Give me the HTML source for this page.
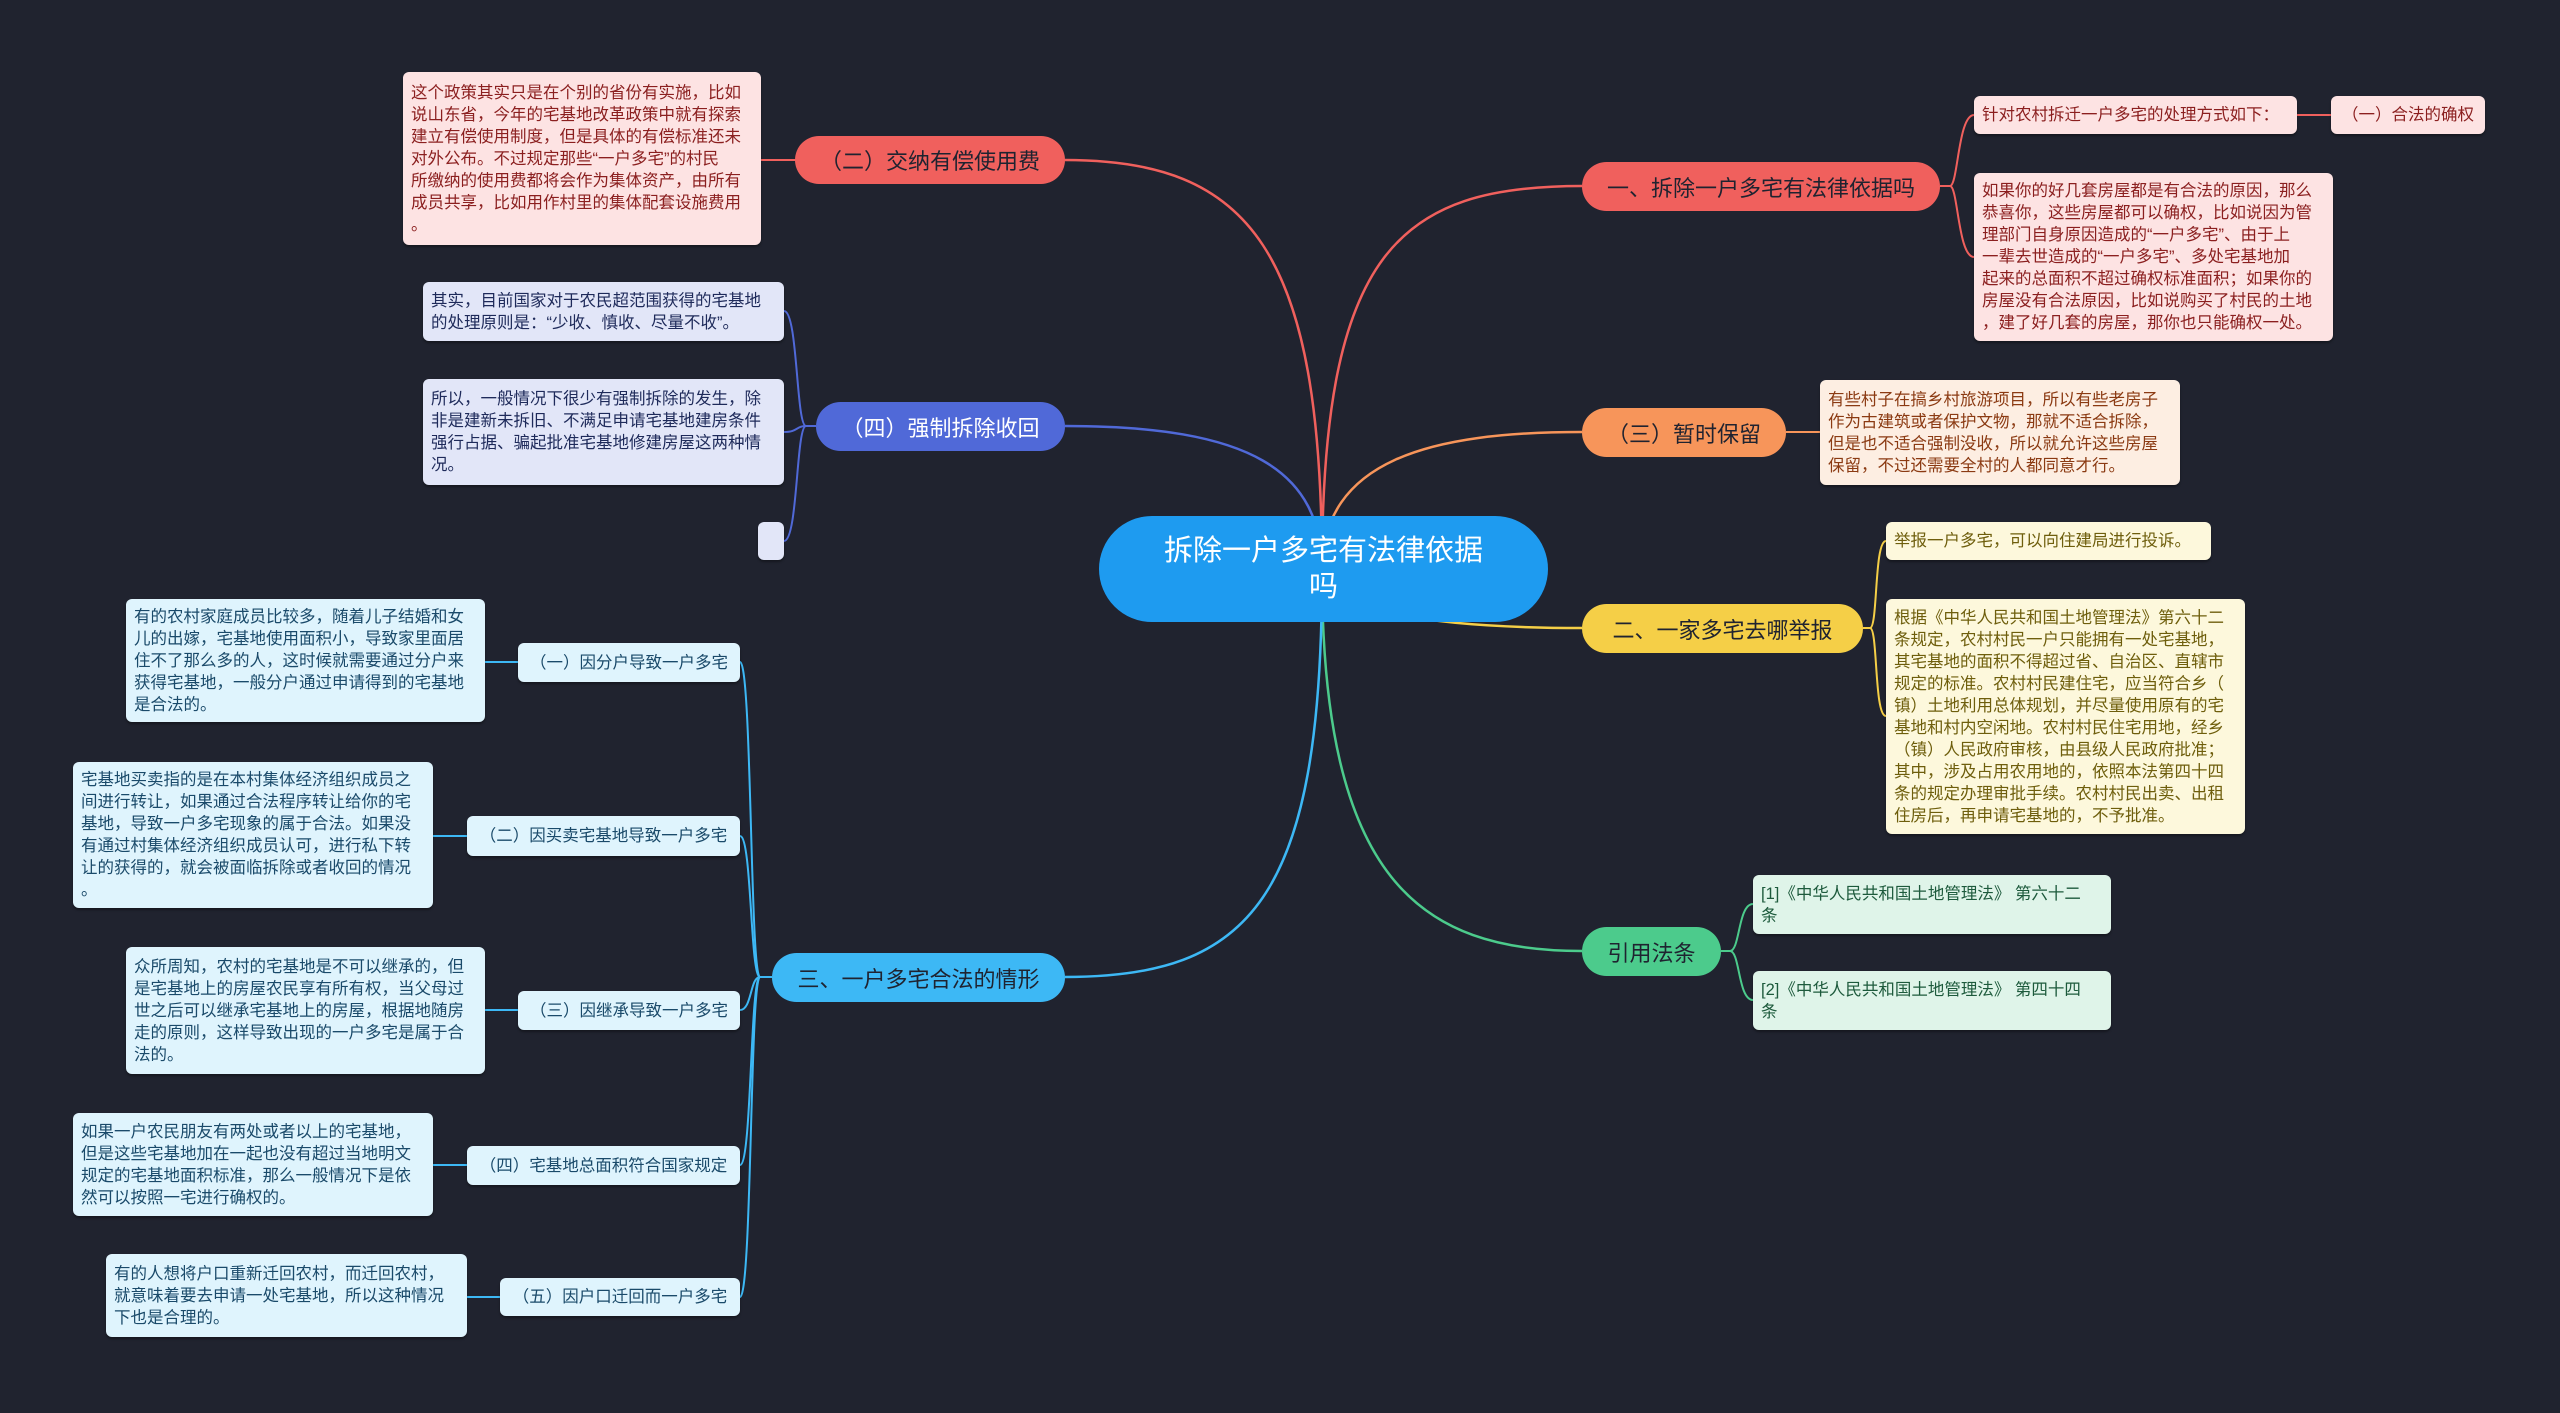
<!DOCTYPE html>
<html><head><meta charset="utf-8">
<style>
html,body{margin:0;padding:0;}
body{width:2560px;height:1413px;background:#20232f;position:relative;overflow:hidden;font-family:"Liberation Sans","Noto Sans CJK SC",sans-serif;}
.n{position:absolute;box-sizing:border-box;display:flex;align-items:center;justify-content:center;white-space:nowrap;}
.pill{border-radius:26px;font-size:22px;color:#1f2330;}
.box{border-radius:6px;font-size:16.5px;line-height:22px;justify-content:flex-start;padding:0 8px;box-shadow:0 2px 2px rgba(0,0,0,.35);}
svg{position:absolute;left:0;top:0;}
</style></head><body>
<svg width="2560" height="1413" fill="none" stroke-width="2.5">
<path d="M1322 571 C1322 250 1400 186 1582 186" stroke="#f0605d"/>
<path d="M1322 571 C1322 460 1430 432 1582 432" stroke="#f7955a"/>
<path d="M1322 571 C1322 610 1430 628 1582 628" stroke="#f5cf47"/>
<path d="M1322 571 C1322 880 1420 951 1582 951" stroke="#4ccb8c"/>
<path d="M1322 571 C1322 250 1250 160 1065 160" stroke="#f0605d"/>
<path d="M1322 571 C1322 470 1250 426 1065 426" stroke="#5069d8"/>
<path d="M1322 571 C1322 900 1250 977 1065 977" stroke="#3db8f5"/>
<g stroke="#f0605d" stroke-width="2">
<path d="M1940 186 H1950 C1958 186 1958 115 1974 115"/>
<path d="M1940 186 H1950 C1958 186 1958 257 1974 257"/>
<path d="M2297 115 H2331"/>
<path d="M1065 160 H761"/>
</g>
<path d="M1786 432 H1820" stroke="#f7955a" stroke-width="2"/>
<g stroke="#f5cf47" stroke-width="2">
<path d="M1863 628 H1870 C1878 628 1874 541 1886 541"/>
<path d="M1863 628 H1870 C1878 628 1874 716 1886 716"/>
</g>
<g stroke="#4ccb8c" stroke-width="2">
<path d="M1721 951 H1730 C1740 951 1738 904 1753 904"/>
<path d="M1721 951 H1730 C1740 951 1738 1000 1753 1000"/>
</g>
<g stroke="#5069d8" stroke-width="2">
<path d="M816 426 H806 C796 426 798 311 784 311"/>
<path d="M816 426 H806 C796 426 798 432 784 432"/>
<path d="M816 426 H806 C796 426 798 541 784 541"/>
</g>
<g stroke="#3db8f5" stroke-width="2">
<path d="M772 977 H760 C750 977 752 662 740 662"/>
<path d="M772 977 H760 C750 977 752 836 740 836"/>
<path d="M772 977 H760 C750 977 752 1010 740 1010"/>
<path d="M772 977 H760 C750 977 752 1165 740 1165"/>
<path d="M772 977 H760 C750 977 752 1297 740 1297"/>
<path d="M485 662 H518"/><path d="M433 836 H467"/><path d="M485 1010 H518"/><path d="M433 1165 H467"/><path d="M467 1297 H500"/>
</g>
</svg>

<div class="n" style="left:1099px;top:516px;width:449px;height:106px;border-radius:53px;background:#1e9bf0;color:#fff;font-size:29px;line-height:36px;text-align:center;">拆除一户多宅有法律依据<br>吗</div>

<div class="n pill" style="left:1582px;top:162px;width:358px;height:49px;background:#f0605d;">一、拆除一户多宅有法律依据吗</div>
<div class="n pill" style="left:1582px;top:408px;width:204px;height:49px;background:#f7955a;">（三）暂时保留</div>
<div class="n pill" style="left:1582px;top:604px;width:281px;height:49px;background:#f5cf47;">二、一家多宅去哪举报</div>
<div class="n pill" style="left:1582px;top:927px;width:139px;height:49px;background:#4ccb8c;">引用法条</div>

<div class="n box" style="left:1974px;top:96px;width:323px;height:38px;background:#fde3e3;color:#8b1f1f;">针对农村拆迁一户多宅的处理方式如下：</div>
<div class="n box" style="left:2331px;top:96px;width:154px;height:38px;background:#fde3e3;color:#8b1f1f;justify-content:center;">（一）合法的确权</div>
<div class="n box" style="left:1974px;top:173px;width:359px;height:168px;background:#fde3e3;color:#8b1f1f;">如果你的好几套房屋都是有合法的原因，那么<br>恭喜你，这些房屋都可以确权，比如说因为管<br>理部门自身原因造成的“一户多宅”、由于上<br>一辈去世造成的“一户多宅”、多处宅基地加<br>起来的总面积不超过确权标准面积；如果你的<br>房屋没有合法原因，比如说购买了村民的土地<br>，建了好几套的房屋，那你也只能确权一处。</div>
<div class="n box" style="left:1820px;top:380px;width:360px;height:105px;background:#fdeee2;color:#8b3a12;">有些村子在搞乡村旅游项目，所以有些老房子<br>作为古建筑或者保护文物，那就不适合拆除，<br>但是也不适合强制没收，所以就允许这些房屋<br>保留，不过还需要全村的人都同意才行。</div>
<div class="n box" style="left:1886px;top:522px;width:325px;height:38px;background:#fdf8dc;color:#6e5e0c;">举报一户多宅，可以向住建局进行投诉。</div>
<div class="n box" style="left:1886px;top:599px;width:359px;height:235px;background:#fdf8dc;color:#6e5e0c;">根据《中华人民共和国土地管理法》第六十二<br>条规定，农村村民一户只能拥有一处宅基地，<br>其宅基地的面积不得超过省、自治区、直辖市<br>规定的标准。农村村民建住宅，应当符合乡（<br>镇）土地利用总体规划，并尽量使用原有的宅<br>基地和村内空闲地。农村村民住宅用地，经乡<br>（镇）人民政府审核，由县级人民政府批准；<br>其中，涉及占用农用地的，依照本法第四十四<br>条的规定办理审批手续。农村村民出卖、出租<br>住房后，再申请宅基地的，不予批准。</div>
<div class="n box" style="left:1753px;top:875px;width:358px;height:59px;background:#dff4e9;color:#1d5a3c;">[1]《中华人民共和国土地管理法》 第六十二<br>条</div>
<div class="n box" style="left:1753px;top:971px;width:358px;height:59px;background:#dff4e9;color:#1d5a3c;">[2]《中华人民共和国土地管理法》 第四十四<br>条</div>

<div class="n pill" style="left:795px;top:136px;width:270px;height:48px;background:#f0605d;">（二）交纳有偿使用费</div>
<div class="n pill" style="left:816px;top:402px;width:249px;height:49px;background:#5069d8;color:#fff;">（四）强制拆除收回</div>
<div class="n pill" style="left:772px;top:953px;width:293px;height:49px;background:#3db8f5;">三、一户多宅合法的情形</div>

<div class="n box" style="left:403px;top:72px;width:358px;height:173px;background:#fde3e3;color:#8b1f1f;">这个政策其实只是在个别的省份有实施，比如<br>说山东省，今年的宅基地改革政策中就有探索<br>建立有偿使用制度，但是具体的有偿标准还未<br>对外公布。不过规定那些“一户多宅”的村民<br>所缴纳的使用费都将会作为集体资产，由所有<br>成员共享，比如用作村里的集体配套设施费用<br>。</div>
<div class="n box" style="left:423px;top:282px;width:361px;height:59px;background:#e2e6f8;color:#1e2a5a;">其实，目前国家对于农民超范围获得的宅基地<br>的处理原则是：“少收、慎收、尽量不收”。</div>
<div class="n box" style="left:423px;top:379px;width:361px;height:106px;background:#e2e6f8;color:#1e2a5a;">所以，一般情况下很少有强制拆除的发生，除<br>非是建新未拆旧、不满足申请宅基地建房条件<br>强行占据、骗起批准宅基地修建房屋这两种情<br>况。</div>
<div class="n box" style="left:758px;top:522px;width:26px;height:38px;background:#e2e6f8;"></div>

<div class="n box" style="left:518px;top:643px;width:222px;height:39px;background:#dff4fd;color:#1a4a6a;justify-content:center;">（一）因分户导致一户多宅</div>
<div class="n box" style="left:467px;top:816px;width:273px;height:40px;background:#dff4fd;color:#1a4a6a;justify-content:center;">（二）因买卖宅基地导致一户多宅</div>
<div class="n box" style="left:518px;top:991px;width:222px;height:39px;background:#dff4fd;color:#1a4a6a;justify-content:center;">（三）因继承导致一户多宅</div>
<div class="n box" style="left:467px;top:1146px;width:273px;height:39px;background:#dff4fd;color:#1a4a6a;justify-content:center;">（四）宅基地总面积符合国家规定</div>
<div class="n box" style="left:500px;top:1278px;width:240px;height:38px;background:#dff4fd;color:#1a4a6a;justify-content:center;">（五）因户口迁回而一户多宅</div>

<div class="n box" style="left:126px;top:599px;width:359px;height:123px;background:#dff4fd;color:#1a4a6a;">有的农村家庭成员比较多，随着儿子结婚和女<br>儿的出嫁，宅基地使用面积小，导致家里面居<br>住不了那么多的人，这时候就需要通过分户来<br>获得宅基地，一般分户通过申请得到的宅基地<br>是合法的。</div>
<div class="n box" style="left:73px;top:762px;width:360px;height:146px;background:#dff4fd;color:#1a4a6a;">宅基地买卖指的是在本村集体经济组织成员之<br>间进行转让，如果通过合法程序转让给你的宅<br>基地，导致一户多宅现象的属于合法。如果没<br>有通过村集体经济组织成员认可，进行私下转<br>让的获得的，就会被面临拆除或者收回的情况<br>。</div>
<div class="n box" style="left:126px;top:947px;width:359px;height:127px;background:#dff4fd;color:#1a4a6a;">众所周知，农村的宅基地是不可以继承的，但<br>是宅基地上的房屋农民享有所有权，当父母过<br>世之后可以继承宅基地上的房屋，根据地随房<br>走的原则，这样导致出现的一户多宅是属于合<br>法的。</div>
<div class="n box" style="left:73px;top:1113px;width:360px;height:103px;background:#dff4fd;color:#1a4a6a;">如果一户农民朋友有两处或者以上的宅基地，<br>但是这些宅基地加在一起也没有超过当地明文<br>规定的宅基地面积标准，那么一般情况下是依<br>然可以按照一宅进行确权的。</div>
<div class="n box" style="left:106px;top:1254px;width:361px;height:83px;background:#dff4fd;color:#1a4a6a;">有的人想将户口重新迁回农村，而迁回农村，<br>就意味着要去申请一处宅基地，所以这种情况<br>下也是合理的。</div>
</body></html>
